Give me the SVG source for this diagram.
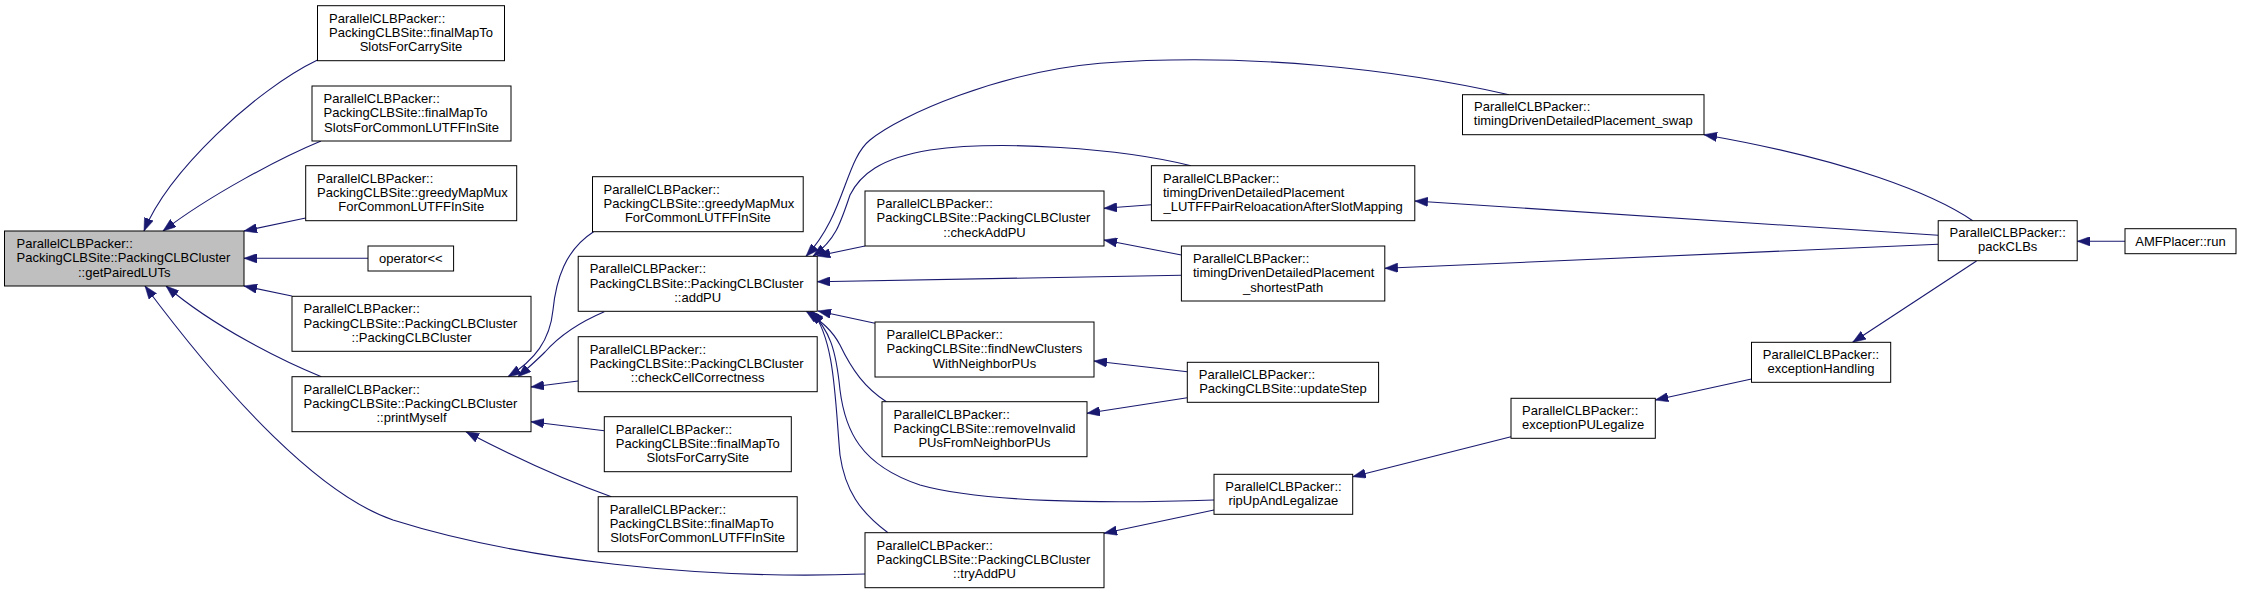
<svg xmlns="http://www.w3.org/2000/svg" width="2241" height="593" viewBox="0 0 2241 593">
<style>
.n rect{fill:#ffffff;stroke:#000000;stroke-width:1}
.root rect{fill:#bfbfbf}
text{font-family:"Liberation Sans",Arial,Helvetica,sans-serif;font-size:13px;fill:#000000}
.m{text-anchor:middle}
#edges path{fill:none;stroke:#191970;stroke-width:1.1;marker-end:url(#ah)}
</style>
<defs>
<marker id="ah" markerUnits="userSpaceOnUse" viewBox="0 0 13 9.5" markerWidth="13" markerHeight="9.5" refX="13" refY="4.75" orient="auto">
<path d="M0,0 L13,4.75 L0,9.5 z" fill="#191970" stroke="#191970" stroke-width="0.5"/>
</marker>
</defs>
<rect width="2241" height="593" fill="#ffffff"/>
<g id="edges">
<path d="M317.5,60 C255,90 168,172 144,231"/>
<path d="M321,141 C280,158 210,195 163,231"/>
<path d="M305.7,218 L244,231"/>
<path d="M368,258.3 L244,258.3"/>
<path d="M291.8,296 L244,286"/>
<path d="M321.4,376.7 C285,362 215,328 166,286"/>
<path d="M865,574 C700,580 520,560 393,520 C320,495 230,400 145,286"/>
<path d="M593.6,231.7 C565,250 556,280 553,310 C550,340 535,360 508,376.7"/>
<path d="M604.3,311.7 C580,322 560,335 545,352 C535,362 528,368 518,376.7"/>
<path d="M578.2,381 L531,387"/>
<path d="M604.3,430.7 L531,421.7"/>
<path d="M611.4,496.7 C570,482 520,460 466,431.7"/>
<path d="M1509,94.7 C1400,70 1250,52 1100,63.3 C1000,72 900,115 870,140 C845,160 845,215 806,256.3"/>
<path d="M1191,165.7 C1120,148 1000,140 930,150 C880,158 860,175 850,195 C840,225 835,240 813,256.3"/>
<path d="M865,246 L817.2,256"/>
<path d="M1181.4,275.3 L817.2,281.7"/>
<path d="M875,323.3 L818,311"/>
<path d="M886.4,401.7 C865,388 852,370 840,345 C832,330 822,322 806,311"/>
<path d="M1214,500 C1100,504 980,502 920,485 C860,465 845,430 840,390 C836,350 830,330 810,311"/>
<path d="M888,532.7 C860,512 845,490 840,455 C835,400 835,340 812,311"/>
<path d="M1151.4,204.7 L1104,208.3"/>
<path d="M1181.4,255 L1104,240"/>
<path d="M1187.3,371.7 L1094,361"/>
<path d="M1187.3,397.7 L1087,413.3"/>
<path d="M1214,510 L1104,533.3"/>
<path d="M1511,436.7 L1352.7,476.7"/>
<path d="M1751.5,379 L1655.3,400"/>
<path d="M1976.5,261 L1852.7,342.3"/>
<path d="M1972.7,220.7 C1935,195 1850,160 1704,134.7"/>
<path d="M1938.2,235.3 L1414.8,201"/>
<path d="M1938.2,244.3 L1384.8,268.3"/>
<path d="M2125,241.3 L2077.2,241.3"/>
</g>
<g id="node_main" class="n root"><rect x="4.5" y="231" width="239.5" height="55"/><text x="16.5" y="248">ParallelCLBPacker::</text><text x="16.5" y="262.3">PackingCLBSite::PackingCLBCluster</text><text class="m" x="124.25" y="276.6">::getPairedLUTs</text></g>
<g id="node_fc1" class="n"><rect x="317.5" y="5.7" width="187" height="55"/><text x="329" y="22.7">ParallelCLBPacker::</text><text x="329" y="37">PackingCLBSite::finalMapTo</text><text class="m" x="411" y="51.3">SlotsForCarrySite</text></g>
<g id="node_fl1" class="n"><rect x="312" y="86" width="199" height="55"/><text x="323.5" y="103">ParallelCLBPacker::</text><text x="323.5" y="117.3">PackingCLBSite::finalMapTo</text><text class="m" x="411.5" y="131.6">SlotsForCommonLUTFFInSite</text></g>
<g id="node_gm1" class="n"><rect x="305.7" y="165.7" width="211" height="55"/><text x="317" y="182.7">ParallelCLBPacker::</text><text x="317" y="197">PackingCLBSite::greedyMapMux</text><text class="m" x="411.2" y="211.3">ForCommonLUTFFInSite</text></g>
<g id="node_op" class="n"><rect x="368" y="246" width="85.6" height="25"/><text class="m" x="410.8" y="263">operator&lt;&lt;</text></g>
<g id="node_pc" class="n"><rect x="292" y="296.3" width="239" height="55"/><text x="303.5" y="313.3">ParallelCLBPacker::</text><text x="303.5" y="327.6">PackingCLBSite::PackingCLBCluster</text><text class="m" x="411.5" y="341.9">::PackingCLBCluster</text></g>
<g id="node_pm" class="n"><rect x="292" y="376.7" width="239" height="55"/><text x="303.5" y="393.7">ParallelCLBPacker::</text><text x="303.5" y="408">PackingCLBSite::PackingCLBCluster</text><text class="m" x="411.5" y="422.3">::printMyself</text></g>
<g id="node_gm2" class="n"><rect x="592.5" y="176.7" width="210.7" height="55"/><text x="603.5" y="193.7">ParallelCLBPacker::</text><text x="603.5" y="208">PackingCLBSite::greedyMapMux</text><text class="m" x="697.85" y="222.3">ForCommonLUTFFInSite</text></g>
<g id="node_add" class="n"><rect x="578.2" y="256.3" width="239" height="55"/><text x="589.7" y="273.3">ParallelCLBPacker::</text><text x="589.7" y="287.6">PackingCLBSite::PackingCLBCluster</text><text class="m" x="697.7" y="301.9">::addPU</text></g>
<g id="node_cc" class="n"><rect x="578.2" y="336.7" width="239" height="55"/><text x="589.7" y="353.7">ParallelCLBPacker::</text><text x="589.7" y="368">PackingCLBSite::PackingCLBCluster</text><text class="m" x="697.7" y="382.3">::checkCellCorrectness</text></g>
<g id="node_fc2" class="n"><rect x="604.3" y="416.7" width="187" height="55"/><text x="615.8" y="433.7">ParallelCLBPacker::</text><text x="615.8" y="448">PackingCLBSite::finalMapTo</text><text class="m" x="697.8" y="462.3">SlotsForCarrySite</text></g>
<g id="node_fl2" class="n"><rect x="598.2" y="496.7" width="199" height="55"/><text x="609.7" y="513.7">ParallelCLBPacker::</text><text x="609.7" y="528">PackingCLBSite::finalMapTo</text><text class="m" x="697.7" y="542.3">SlotsForCommonLUTFFInSite</text></g>
<g id="node_cap" class="n"><rect x="865" y="191" width="239" height="55"/><text x="876.5" y="208">ParallelCLBPacker::</text><text x="876.5" y="222.3">PackingCLBSite::PackingCLBCluster</text><text class="m" x="984.5" y="236.6">::checkAddPU</text></g>
<g id="node_find" class="n"><rect x="875" y="322" width="219" height="55"/><text x="886.5" y="339">ParallelCLBPacker::</text><text x="886.5" y="353.3">PackingCLBSite::findNewClusters</text><text class="m" x="984.5" y="367.6">WithNeighborPUs</text></g>
<g id="node_rem" class="n"><rect x="882" y="401.7" width="205" height="55"/><text x="893.5" y="418.7">ParallelCLBPacker::</text><text x="893.5" y="433">PackingCLBSite::removeInvalid</text><text class="m" x="984.5" y="447.3">PUsFromNeighborPUs</text></g>
<g id="node_try" class="n"><rect x="865" y="532.7" width="239" height="55"/><text x="876.5" y="549.7">ParallelCLBPacker::</text><text x="876.5" y="564">PackingCLBSite::PackingCLBCluster</text><text class="m" x="984.5" y="578.3">::tryAddPU</text></g>
<g id="node_swap" class="n"><rect x="1462.5" y="94.7" width="241.5" height="40"/><text x="1474" y="111.2">ParallelCLBPacker::</text><text class="m" x="1583.25" y="125.2">timingDrivenDetailedPlacement_swap</text></g>
<g id="node_lut" class="n"><rect x="1151.4" y="165.7" width="263.4" height="55"/><text x="1163" y="182.7">ParallelCLBPacker::</text><text x="1163" y="197">timingDrivenDetailedPlacement</text><text class="m" x="1283.1" y="211.3">_LUTFFPairReloacationAfterSlotMapping</text></g>
<g id="node_sp" class="n"><rect x="1181.4" y="246" width="203.4" height="55"/><text x="1193" y="263">ParallelCLBPacker::</text><text x="1193" y="277.3">timingDrivenDetailedPlacement</text><text class="m" x="1283.1" y="291.6">_shortestPath</text></g>
<g id="node_us" class="n"><rect x="1187.3" y="362.3" width="191.3" height="40"/><text x="1198.8" y="378.8">ParallelCLBPacker::</text><text class="m" x="1283" y="392.8">PackingCLBSite::updateStep</text></g>
<g id="node_rip" class="n"><rect x="1214" y="474.3" width="138.7" height="40"/><text x="1225.3" y="490.8">ParallelCLBPacker::</text><text class="m" x="1283.35" y="504.8">ripUpAndLegalizae</text></g>
<g id="node_epl" class="n"><rect x="1511" y="398.3" width="144.3" height="40"/><text x="1522" y="414.8">ParallelCLBPacker::</text><text class="m" x="1583.15" y="428.8">exceptionPULegalize</text></g>
<g id="node_pack" class="n"><rect x="1938.2" y="220.7" width="139" height="40"/><text x="1949.5" y="237.2">ParallelCLBPacker::</text><text class="m" x="2007.7" y="251.2">packCLBs</text></g>
<g id="node_run" class="n"><rect x="2125" y="228.7" width="111" height="25"/><text class="m" x="2180.5" y="245.7">AMFPlacer::run</text></g>
<g id="node_eh" class="n"><rect x="1751.5" y="342.3" width="139.2" height="40"/><text x="1762.8" y="358.8">ParallelCLBPacker::</text><text class="m" x="1821.1" y="372.8">exceptionHandling</text></g>
</svg>
